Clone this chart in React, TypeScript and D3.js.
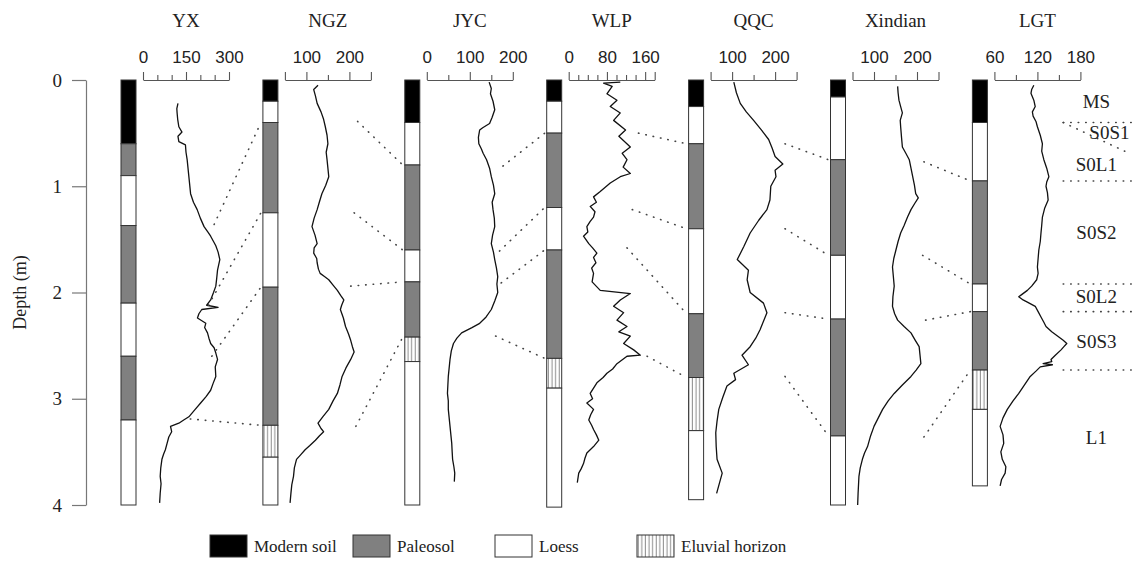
import React, { useEffect, useRef } from "react";
import * as d3 from "d3";

// sites, left to right
const sites = ["YX", "NGZ", "JYC", "WLP", "QQC", "Xindian", "LGT"];
const siteDomains = [[0, 300], [50, 250], [0, 200], [0, 180], [50, 250], [50, 250], [60, 180]];
const tickSteps = [50, 50, 50, 20, 50, 50, 30];
const tickLabels = [[0, 150, 300], [100, 200], [0, 100, 200], [0, 80, 160], [100, 200], [100, 200], [60, 120, 180]];
const depthTicks = [0, 1, 2, 3, 4];

// lithology columns: boundaries (m) and layer types
// M = modern soil, P = paleosol, L = loess, E = eluvial horizon
const yxBounds = [0, 0.6, 0.9, 1.37, 2.1, 2.6, 3.2, 4.0];
const yxTypes = ["M", "P", "L", "P", "L", "P", "L"];
const ngzBounds = [0, 0.2, 0.4, 1.25, 1.95, 3.25, 3.55, 4.0];
const ngzTypes = ["M", "L", "P", "L", "P", "E", "L"];
const jycBounds = [0, 0.4, 0.8, 1.6, 1.9, 2.42, 2.65, 4.0];
const jycTypes = ["M", "L", "P", "L", "P", "E", "L"];
const wlpBounds = [0, 0.2, 0.5, 1.2, 1.6, 2.62, 2.9, 4.02];
const wlpTypes = ["M", "L", "P", "L", "P", "E", "L"];
const qqcBounds = [0, 0.25, 0.6, 1.4, 2.2, 2.8, 3.3, 3.95];
const qqcTypes = ["M", "L", "P", "L", "P", "E", "L"];
const xindianBounds = [0, 0.16, 0.75, 1.65, 2.25, 3.35, 4.0];
const xindianTypes = ["M", "L", "P", "L", "P", "L"];
const lgtBounds = [0, 0.4, 0.95, 1.92, 2.18, 2.73, 3.1, 3.82];
const lgtTypes = ["M", "L", "P", "L", "P", "E", "L"];

// curves: [depth (m), value]
const yxCurve = [
  [0.22, 122], [0.27, 118], [0.31, 119], [0.37, 121], [0.44, 125], [0.49, 136], [0.53, 122], [0.58, 125],
  [0.61, 148], [0.68, 150], [0.75, 154], [0.83, 157], [0.91, 160], [0.99, 163], [1.07, 166], [1.15, 176],
  [1.22, 189], [1.3, 200], [1.38, 213], [1.43, 226], [1.47, 236], [1.52, 246], [1.56, 254], [1.62, 262],
  [1.69, 268], [1.74, 264], [1.79, 260], [1.87, 257], [1.94, 254], [2.0, 246], [2.07, 236], [2.12, 222],
  [2.14, 262], [2.16, 205], [2.2, 195], [2.24, 190], [2.29, 219], [2.33, 215], [2.38, 225], [2.43, 230],
  [2.48, 236], [2.52, 248], [2.57, 254], [2.63, 260], [2.7, 252], [2.79, 254], [2.86, 244], [2.92, 236],
  [2.98, 220], [3.04, 201], [3.1, 182], [3.17, 160], [3.2, 142], [3.23, 125], [3.26, 96], [3.31, 100],
  [3.36, 90], [3.42, 84], [3.48, 78], [3.52, 72], [3.57, 66], [3.65, 62], [3.73, 60], [3.8, 63],
  [3.89, 60], [3.98, 58],
];
const ngzCurve = [
  [0.05, 127], [0.09, 117], [0.15, 121], [0.22, 125], [0.3, 134], [0.37, 140], [0.44, 144], [0.52, 148],
  [0.6, 150], [0.68, 146], [0.75, 148], [0.83, 150], [0.91, 152], [0.99, 145], [1.07, 136], [1.15, 130],
  [1.22, 125], [1.3, 118], [1.38, 113], [1.46, 120], [1.54, 125], [1.58, 118], [1.63, 117], [1.68, 124],
  [1.72, 125], [1.78, 128], [1.82, 132], [1.85, 142], [1.88, 152], [1.93, 162], [1.98, 172], [2.03, 180],
  [2.07, 187], [2.12, 182], [2.16, 179], [2.24, 186], [2.32, 191], [2.39, 198], [2.45, 203], [2.51, 207],
  [2.56, 211], [2.63, 203], [2.71, 192], [2.79, 183], [2.87, 178], [2.95, 172], [3.02, 162], [3.1, 152],
  [3.17, 138], [3.23, 127], [3.28, 134], [3.31, 140], [3.35, 130], [3.39, 121], [3.44, 108], [3.48, 97],
  [3.53, 86], [3.57, 77], [3.65, 72], [3.73, 70], [3.81, 66], [3.89, 64], [3.98, 62],
];
const jycCurve = [
  [0.02, 145], [0.08, 150], [0.13, 148], [0.2, 154], [0.28, 158], [0.35, 152], [0.41, 146], [0.45, 130],
  [0.47, 123], [0.54, 120], [0.6, 121], [0.65, 127], [0.69, 131], [0.75, 139], [0.83, 146], [0.91, 150],
  [0.99, 155], [1.07, 158], [1.15, 152], [1.22, 154], [1.3, 157], [1.38, 158], [1.46, 153], [1.54, 150],
  [1.62, 155], [1.69, 158], [1.77, 162], [1.85, 165], [1.92, 163], [2.0, 165], [2.08, 158], [2.16, 150],
  [2.23, 138], [2.29, 123], [2.33, 105], [2.38, 81], [2.43, 70], [2.48, 62], [2.55, 57], [2.63, 54],
  [2.71, 52], [2.79, 50], [2.87, 49], [2.95, 48], [3.02, 50], [3.1, 50], [3.18, 52], [3.26, 54],
  [3.34, 56], [3.42, 58], [3.5, 59], [3.57, 60], [3.64, 63], [3.7, 65], [3.78, 64],
];
const wlpCurve = [
  [0.02, 108], [0.03, 73], [0.06, 91], [0.13, 80], [0.19, 101], [0.25, 87], [0.31, 108], [0.38, 94],
  [0.47, 119], [0.53, 105], [0.63, 129], [0.69, 112], [0.75, 122], [0.82, 114], [0.88, 129], [0.91, 108],
  [0.97, 87], [1.05, 66], [1.1, 52], [1.15, 58], [1.19, 45], [1.24, 55], [1.29, 52], [1.33, 45],
  [1.38, 38], [1.43, 40], [1.47, 31], [1.54, 42], [1.58, 50], [1.63, 59], [1.67, 52], [1.72, 57],
  [1.77, 48], [1.82, 52], [1.9, 49], [1.98, 66], [2.01, 129], [2.07, 108], [2.13, 94], [2.19, 115],
  [2.26, 101], [2.32, 122], [2.37, 105], [2.41, 129], [2.48, 115], [2.54, 136], [2.59, 150], [2.6, 122],
  [2.67, 101], [2.72, 92], [2.76, 80], [2.8, 72], [2.85, 59], [2.9, 52], [2.95, 45], [3.0, 50],
  [3.04, 38], [3.1, 52], [3.15, 46], [3.2, 42], [3.25, 48], [3.29, 52], [3.34, 58], [3.39, 63],
  [3.45, 52], [3.51, 38], [3.56, 34], [3.61, 31], [3.66, 26], [3.7, 21], [3.79, 18],
];
const qqcCurve = [
  [0.02, 104], [0.12, 110], [0.22, 119], [0.3, 133], [0.38, 150], [0.47, 168], [0.56, 185], [0.64, 193],
  [0.72, 200], [0.79, 218], [0.85, 200], [0.91, 202], [1.0, 190], [1.13, 188], [1.22, 181], [1.32, 162],
  [1.44, 142], [1.57, 127], [1.69, 112], [1.79, 138], [1.88, 135], [2.0, 142], [2.1, 173], [2.19, 181],
  [2.27, 173], [2.35, 165], [2.43, 155], [2.51, 142], [2.59, 123], [2.68, 138], [2.76, 104], [2.82, 108],
  [2.88, 88], [2.99, 78], [3.1, 69], [3.21, 65], [3.32, 62], [3.45, 63], [3.57, 65], [3.7, 77],
  [3.89, 64],
];
const xindianCurve = [
  [0.06, 155], [0.12, 156], [0.19, 158], [0.25, 162], [0.31, 166], [0.38, 161], [0.44, 162], [0.54, 164],
  [0.63, 166], [0.69, 174], [0.75, 182], [0.83, 186], [0.91, 190], [0.99, 194], [1.07, 197], [1.11, 203],
  [1.16, 195], [1.22, 186], [1.29, 178], [1.37, 170], [1.44, 162], [1.52, 156], [1.6, 151], [1.68, 146],
  [1.76, 143], [1.85, 145], [1.94, 147], [2.04, 144], [2.13, 143], [2.2, 148], [2.26, 155], [2.32, 170],
  [2.38, 186], [2.45, 196], [2.51, 205], [2.59, 207], [2.67, 209], [2.73, 198], [2.79, 186], [2.87, 166],
  [2.95, 147], [3.02, 133], [3.1, 120], [3.18, 110], [3.26, 100], [3.35, 92], [3.45, 85], [3.51, 78],
  [3.57, 73], [3.65, 68], [3.73, 65], [3.81, 64], [3.89, 63], [4.0, 62],
];
const lgtCurve = [
  [0.05, 115], [0.09, 112], [0.125, 111], [0.19, 115], [0.25, 117], [0.3, 113], [0.34, 114], [0.39, 118],
  [0.44, 120], [0.52, 124], [0.6, 127], [0.67, 126], [0.75, 129], [0.83, 133], [0.91, 136], [0.96, 133],
  [1.0, 132], [1.06, 134], [1.13, 135], [1.21, 130], [1.29, 127], [1.37, 126], [1.44, 125], [1.52, 124],
  [1.6, 122], [1.68, 121], [1.76, 120], [1.82, 121], [1.88, 119], [1.94, 112], [1.98, 106], [2.02, 98],
  [2.04, 94], [2.07, 100], [2.09, 106], [2.13, 117], [2.18, 121], [2.23, 125], [2.28, 129], [2.32, 132],
  [2.37, 140], [2.41, 148], [2.45, 156], [2.48, 161], [2.51, 157], [2.54, 153], [2.59, 145], [2.63, 139],
  [2.65, 140], [2.67, 128], [2.68, 141], [2.7, 124], [2.74, 118], [2.79, 110], [2.87, 102], [2.95, 94],
  [3.02, 86], [3.1, 78], [3.18, 72], [3.26, 68], [3.34, 72], [3.42, 73], [3.5, 69], [3.57, 71],
  [3.64, 76], [3.7, 75], [3.76, 70], [3.82, 68],
];

// dotted correlation lines between neighbouring sites:
// [value on the left site's scale, depth at left end, depth at right site's column]
const corrYxNgz = [[248, 1.36, 0.4], [228, 2.12, 1.25], [240, 2.6, 1.95], [165, 3.19, 3.25]];
const corrNgzJyc = [[219, 0.39, 0.8], [211, 1.25, 1.6], [203, 1.94, 1.9], [215, 3.26, 2.42]];
const corrJycWlp = [[177, 0.81, 0.5], [169, 1.61, 1.2], [173, 1.91, 1.6], [160, 2.41, 2.62]];
const corrWlpQqc = [[146, 0.5, 0.6], [133, 1.22, 1.4], [122, 1.58, 2.2], [164, 2.6, 2.8]];
const corrQqcXindian = [[223, 0.6, 0.75], [223, 1.4, 1.65], [223, 2.19, 2.25], [223, 2.79, 3.35]];
const corrXindianLgt = [[216, 0.77, 0.95], [213, 1.65, 1.92], [220, 2.26, 2.18], [216, 3.36, 2.73]];

// stratigraphic units at the right of LGT
const stratNames = ["MS", "S0S1", "S0L1", "S0S2", "S0L2", "S0S3", "L1"];
const stratLabelDepths = [0.2, 0.49, 0.79, 1.43, 2.04, 2.46, 3.36];
const stratBoundaries = [0.4, 0.95, 1.92, 2.18, 2.73];
const stratLineSpan = [156, 252]; // LGT units
const s0s1Diagonal = [[156, 0.4], [245, 0.68]];

const legendNames = ["Modern soil", "Paleosol", "Loess", "Eluvial horizon"];
const legendTypes = ["M", "P", "L", "E"];

const SERIF = "'Liberation Serif', 'Times New Roman', serif";
const SANS = "'Liberation Sans', Arial, sans-serif";

const App = () => {
  const svgRef = useRef<SVGSVGElement>(null);

  useEffect(() => {
    const svg = d3.select(svgRef.current);
    svg.selectAll("*").remove();

    const W = 1136;
    const H = 585;
    svg.attr("width", W).attr("height", H);

    const y = d3.scaleLinear().domain([0, 4]).range([80, 505]);
    const axisStart = (i: number) => 143 + i * 141.9;
    const axisWidth = 86;
    const barX = (i: number) => axisStart(i) - 22;
    const barW = 15;
    const xs = sites.map((_, i) =>
      d3.scaleLinear().domain(siteDomains[i]).range([axisStart(i), axisStart(i) + axisWidth])
    );

    const fills: Record<string, string> = { M: "#000", P: "#808080", L: "#fff", E: "url(#eluvial)" };

    const defs = svg.append("defs");
    const pat = defs
      .append("pattern")
      .attr("id", "eluvial")
      .attr("patternUnits", "userSpaceOnUse")
      .attr("width", 3.6)
      .attr("height", 10);
    pat.append("rect").attr("width", 3.6).attr("height", 10).attr("fill", "#fff");
    pat
      .append("line")
      .attr("x1", 1.2)
      .attr("x2", 1.2)
      .attr("y1", 0)
      .attr("y2", 10)
      .attr("stroke", "#666")
      .attr("stroke-width", 0.8);

    // depth axis
    const depthAxis = d3
      .axisLeft(y)
      .tickValues(depthTicks)
      .tickFormat(d3.format("d"))
      .tickSize(14)
      .tickSizeOuter(0)
      .tickPadding(10);
    const gd = svg.append("g").attr("transform", "translate(86,0)").call(depthAxis);
    gd.selectAll("path, line").attr("stroke", "#777").attr("stroke-width", 1.2);
    gd.selectAll("text").attr("font-family", SERIF).attr("font-size", 19).attr("fill", "#222");

    svg
      .append("text")
      .attr("transform", `translate(26,${y(2)}) rotate(-90)`)
      .attr("text-anchor", "middle")
      .attr("font-family", SERIF)
      .attr("font-size", 18)
      .attr("fill", "#222")
      .text("Depth (m)");

    const allBounds = [yxBounds, ngzBounds, jycBounds, wlpBounds, qqcBounds, xindianBounds, lgtBounds];
    const allTypes = [yxTypes, ngzTypes, jycTypes, wlpTypes, qqcTypes, xindianTypes, lgtTypes];
    const curves = [yxCurve, ngzCurve, jycCurve, wlpCurve, qqcCurve, xindianCurve, lgtCurve];
    const corrs = [corrYxNgz, corrNgzJyc, corrJycWlp, corrWlpQqc, corrQqcXindian, corrXindianLgt];

    sites.forEach((name, i) => {
      const xScale = xs[i];
      const [d0, d1] = siteDomains[i];
      const ticks = d3.range(d0, d1 + 0.001, tickSteps[i]);

      // title
      svg
        .append("text")
        .attr("x", axisStart(i) + axisWidth / 2)
        .attr("y", 27)
        .attr("text-anchor", "middle")
        .attr("font-family", SERIF)
        .attr("font-size", 19)
        .attr("fill", "#222")
        .text(name);

      // top axis
      const axis = d3
        .axisTop(xScale)
        .tickValues(ticks)
        .tickSizeInner(5)
        .tickSizeOuter(0)
        .tickPadding(12)
        .tickFormat((d) => (tickLabels[i].includes(+d) ? String(d) : ""));
      const g = svg.append("g").attr("transform", "translate(0,80)").call(axis);
      g.selectAll("path, line").attr("stroke", "#555").attr("stroke-width", 1.1);
      g.selectAll(".tick")
        .filter((d: any) => tickLabels[i].includes(+d) || d === d0 || d === d1)
        .select("line")
        .attr("y2", -8);
      g.selectAll("text").attr("font-family", SANS).attr("font-size", 17).attr("fill", "#222");

      // lithology column
      const layers = allTypes[i].map((t, k) => ({ t, top: allBounds[i][k], bottom: allBounds[i][k + 1] }));
      svg
        .append("g")
        .selectAll("rect")
        .data(layers)
        .join("rect")
        .attr("x", barX(i))
        .attr("y", (l) => y(l.top))
        .attr("width", barW)
        .attr("height", (l) => y(l.bottom) - y(l.top))
        .attr("fill", (l) => fills[l.t])
        .attr("stroke", "#333")
        .attr("stroke-width", 1);

      // curve
      const line = d3
        .line<number[]>()
        .x((d) => xScale(d[1]))
        .y((d) => y(d[0]));
      svg
        .append("path")
        .datum(curves[i])
        .attr("d", line)
        .attr("fill", "none")
        .attr("stroke", "#111")
        .attr("stroke-width", 1.3)
        .attr("stroke-linejoin", "round");

      // correlation lines to the next column
      if (i < corrs.length) {
        svg
          .append("g")
          .selectAll("line")
          .data(corrs[i])
          .join("line")
          .attr("x1", (c) => xScale(c[0]))
          .attr("y1", (c) => y(c[1]))
          .attr("x2", barX(i + 1) - 2)
          .attr("y2", (c) => y(c[2]))
          .attr("stroke", "#444")
          .attr("stroke-width", 1.6)
          .attr("stroke-linecap", "round")
          .attr("stroke-dasharray", "0.5 7");
      }
    });

    // stratigraphy on the right
    const lgtX = xs[6];
    const strat = svg.append("g");
    strat
      .selectAll("line.b")
      .data(stratBoundaries)
      .join("line")
      .attr("class", "b")
      .attr("x1", lgtX(stratLineSpan[0]))
      .attr("x2", lgtX(stratLineSpan[1]))
      .attr("y1", (d) => y(d))
      .attr("y2", (d) => y(d))
      .attr("stroke", "#444")
      .attr("stroke-width", 1.6)
      .attr("stroke-linecap", "round")
      .attr("stroke-dasharray", "0.5 7");
    strat
      .append("line")
      .attr("x1", lgtX(s0s1Diagonal[0][0]))
      .attr("y1", y(s0s1Diagonal[0][1]))
      .attr("x2", lgtX(s0s1Diagonal[1][0]))
      .attr("y2", y(s0s1Diagonal[1][1]))
      .attr("stroke", "#444")
      .attr("stroke-width", 1.6)
      .attr("stroke-linecap", "round")
      .attr("stroke-dasharray", "0.5 7");
    const labelX = xs[6].range()[1] + 16;
    strat
      .selectAll("text")
      .data(stratNames)
      .join("text")
      .attr("x", (d) => (d === "S0S1" ? labelX + 13 : labelX))
      .attr("y", (_, k) => y(stratLabelDepths[k]))
      .attr("dy", "0.35em")
      .attr("text-anchor", "middle")
      .attr("font-family", SERIF)
      .attr("font-size", 19)
      .attr("fill", "#222")
      .text((d) => d);

    // legend
    const legendX = [210, 353, 495, 637];
    const legend = svg
      .append("g")
      .selectAll("g")
      .data(legendNames)
      .join("g")
      .attr("transform", (_, k) => `translate(${legendX[k]},535)`);
    legend
      .append("rect")
      .attr("width", 37)
      .attr("height", 22)
      .attr("fill", (_, k) => fills[legendTypes[k]])
      .attr("stroke", "#333")
      .attr("stroke-width", 1);
    legend
      .append("text")
      .attr("x", 44)
      .attr("y", 11)
      .attr("dy", "0.35em")
      .attr("font-family", SERIF)
      .attr("font-size", 17)
      .attr("fill", "#222")
      .text((d) => d);
  }, []);

  return (
    <svg
      ref={svgRef}
      style={{ position: "absolute", left: 0, top: 0, background: "#fff", display: "block" }}
    />
  );
};

export default App;
